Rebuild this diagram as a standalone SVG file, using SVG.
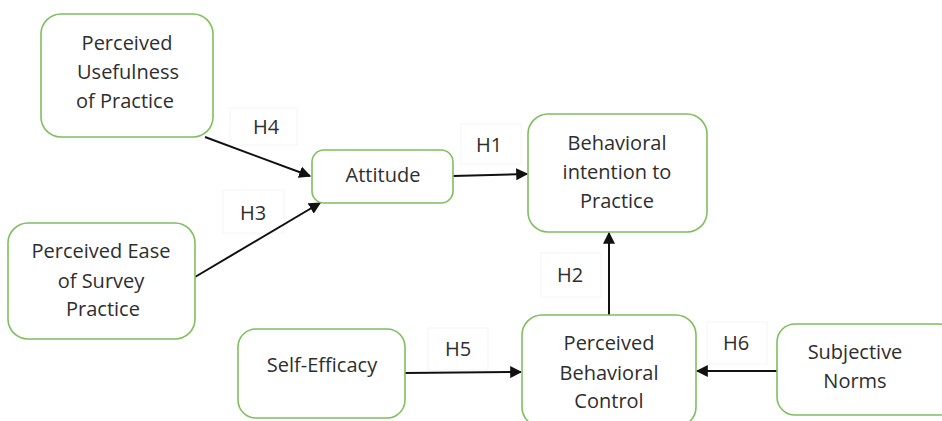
<svg xmlns="http://www.w3.org/2000/svg" width="942" height="421" viewBox="0 0 942 421">
<defs>
<style>
.box{fill:#ffffff;stroke:#7fbf5f;stroke-width:1.6}
.t{font-family:"Open Sans","Liberation Sans",sans-serif;font-size:20px;fill:#2e2e2e;text-anchor:middle}
.lb{fill:#ffffff;stroke:#f5f5f5;stroke-width:1}
.c{stroke:#111111;stroke-width:2;fill:none;marker-end:url(#ah)}
</style>
<marker id="ah" viewBox="0 0 10 10" refX="9" refY="5" markerWidth="6" markerHeight="6" orient="auto" markerUnits="strokeWidth">
<path d="M0,0 L10,5 L0,10 z" fill="#111111"/>
</marker>
</defs>
<rect width="942" height="421" fill="#ffffff"/>
<g id="connectors">
<rect class="lb" x="230" y="108" width="67" height="37"/>
<rect class="lb" x="223" y="190" width="61" height="43"/>
<rect class="lb" x="461" y="124" width="60" height="40"/>
<rect class="lb" x="541" y="253" width="60" height="44"/>
<rect class="lb" x="428" y="328" width="60" height="42"/>
<rect class="lb" x="707" y="322" width="60" height="42"/>
<line class="c" x1="205" y1="137" x2="310" y2="176"/>
<line class="c" x1="195" y1="277" x2="320" y2="203"/>
<line class="c" x1="453" y1="176" x2="527" y2="174"/>
<line class="c" x1="609" y1="315" x2="609" y2="233"/>
<line class="c" x1="405" y1="373" x2="521" y2="372"/>
<line class="c" x1="777" y1="371" x2="697" y2="371"/>
<text class="t" x="266" y="134">H4</text>
<text class="t" x="253" y="220">H3</text>
<text class="t" x="489" y="152">H1</text>
<text class="t" x="570" y="282">H2</text>
<text class="t" x="458" y="356">H5</text>
<text class="t" x="736" y="350">H6</text>
</g>
<g id="n-usefulness">
<rect class="box" x="41" y="14" width="172" height="123" rx="20"/>
<text class="t" x="127" y="50">Perceived</text>
<text class="t" x="128" y="79">Usefulness</text>
<text class="t" x="125" y="108">of Practice</text>
</g>
<g id="n-ease">
<rect class="box" x="8" y="223" width="187" height="116" rx="20"/>
<text class="t" x="101" y="258">Perceived Ease</text>
<text class="t" x="101" y="288">of Survey</text>
<text class="t" x="103" y="316">Practice</text>
</g>
<g id="n-attitude">
<rect class="box" x="312" y="150" width="141" height="53" rx="12"/>
<text class="t" x="383" y="182">Attitude</text>
</g>
<g id="n-intention">
<rect class="box" x="528" y="114" width="179" height="118" rx="20"/>
<text class="t" x="617" y="150">Behavioral</text>
<text class="t" x="617" y="179">intention to</text>
<text class="t" x="617" y="208">Practice</text>
</g>
<g id="n-selfefficacy">
<rect class="box" x="238" y="329" width="167" height="89" rx="18"/>
<text class="t" x="322" y="372">Self-Efficacy</text>
</g>
<g id="n-pbc">
<rect class="box" x="522" y="315" width="174" height="112" rx="20"/>
<text class="t" x="609" y="350">Perceived</text>
<text class="t" x="609" y="380">Behavioral</text>
<text class="t" x="609" y="408">Control</text>
</g>
<g id="n-norms">
<rect class="box" x="777" y="324" width="180" height="91" rx="18"/>
<text class="t" x="855" y="359">Subjective</text>
<text class="t" x="855" y="388">Norms</text>
</g>
</svg>
